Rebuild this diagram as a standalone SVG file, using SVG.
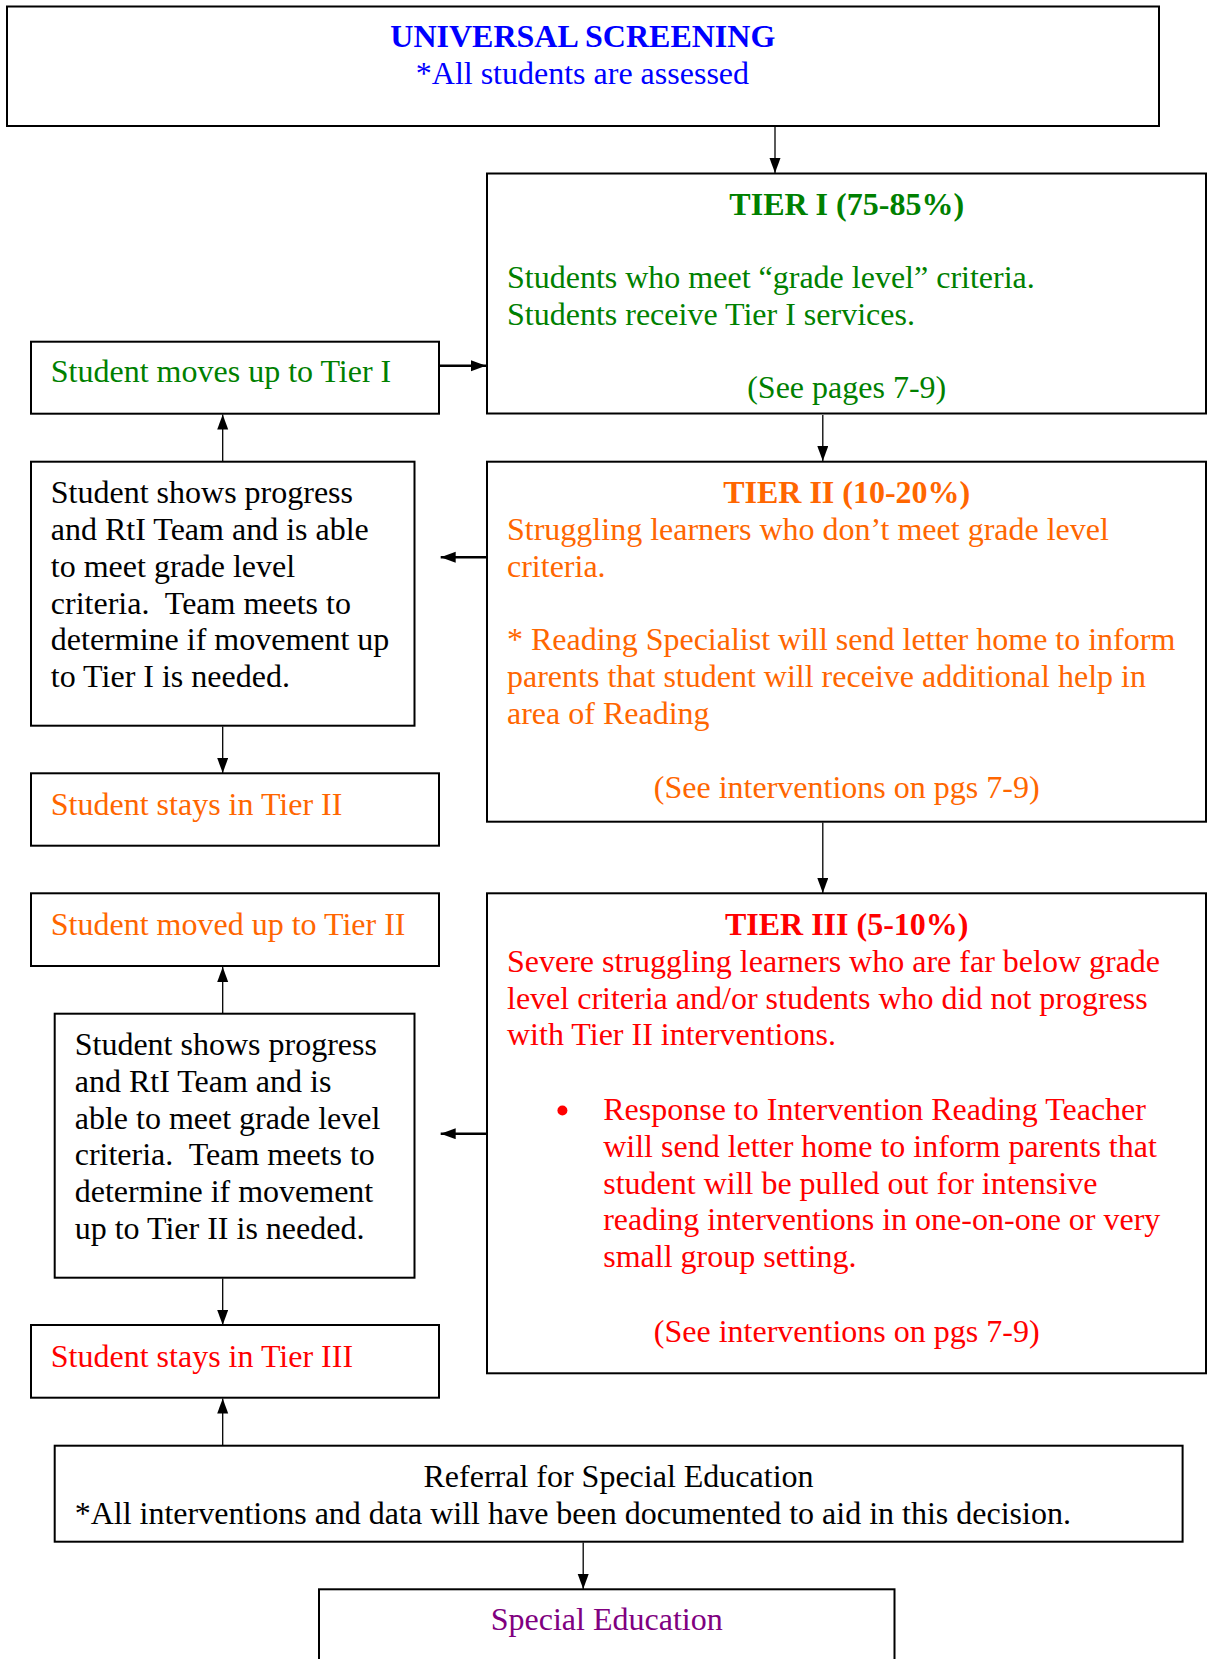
<svg xmlns="http://www.w3.org/2000/svg" width="1208" height="1659" viewBox="0 0 1208 1659">
<style>
  .box { fill: #ffffff; stroke: #000000; stroke-width: 2; }
  .t { font-family: "Liberation Serif", "Times New Roman", serif; font-size: 32px; }
  .b { font-weight: bold; }
  .c { text-anchor: middle; }
  .blue { fill: #0000FF; }
  .green { fill: #008000; }
  .orange { fill: #FF6600; }
  .red { fill: #FF0000; }
  .purple { fill: #800080; }
  .black { fill: #000000; }
  .conn { stroke: #000000; stroke-width: 1.3; fill: none; marker-end: url(#arrow); }
  .conn2 { stroke: #000000; stroke-width: 2.5; fill: none; marker-end: url(#arrow); }
</style>
<defs>
  <marker id="arrow" markerUnits="userSpaceOnUse" markerWidth="16" markerHeight="12" refX="15" refY="5.5" orient="auto">
    <path d="M0,0 L15,5.5 L0,11 z" fill="#000000"/>
  </marker>
</defs>
<rect x="0" y="0" width="1208" height="1659" fill="#ffffff"/>

<g id="connectors">
  <line class="conn" x1="775" y1="127" x2="775" y2="173"/>
  <line class="conn2" x1="439" y1="365.7" x2="486" y2="365.7"/>
  <line class="conn" x1="222.7" y1="461" x2="222.7" y2="414.5"/>
  <line class="conn" x1="822.8" y1="415" x2="822.8" y2="461"/>
  <line class="conn2" x1="487" y1="557.3" x2="440.7" y2="557.3"/>
  <line class="conn" x1="222.7" y1="726.5" x2="222.7" y2="773"/>
  <line class="conn" x1="822.8" y1="822.5" x2="822.8" y2="893"/>
  <line class="conn" x1="222.7" y1="1013" x2="222.7" y2="967"/>
  <line class="conn2" x1="487" y1="1133.7" x2="440.7" y2="1133.7"/>
  <line class="conn" x1="222.7" y1="1278.5" x2="222.7" y2="1325"/>
  <line class="conn" x1="222.7" y1="1445" x2="222.7" y2="1398.5"/>
  <line class="conn" x1="583.2" y1="1542.5" x2="583.2" y2="1589"/>
</g>

<g id="universal">
  <rect class="box" x="7" y="6.5" width="1152" height="119.5"/>
  <text class="t b c blue" x="582.8" y="47">UNIVERSAL SCREENING</text>
  <text class="t c blue" x="582.4" y="83.7">*All students are assessed</text>
</g>

<g id="tier1">
  <rect class="box" x="487" y="173.5" width="719" height="240"/>
  <text class="t b c green" x="846.7" y="215">TIER I (75-85%)</text>
  <text class="t green" x="507" y="288">Students who meet “grade level” criteria.</text>
  <text class="t green" x="507" y="324.7">Students receive Tier I services.</text>
  <text class="t c green" x="846.7" y="398">(See pages 7-9)</text>
</g>

<g id="moves-up-tier1">
  <rect class="box" x="31" y="341.7" width="408" height="72"/>
  <text class="t green" x="50.8" y="382">Student moves up to Tier I</text>
</g>

<g id="progress1">
  <rect class="box" x="31" y="461.7" width="383.5" height="264"/>
  <text class="t black" x="50.8" y="503">Student shows progress</text>
  <text class="t black" x="50.8" y="540">and RtI Team and is able</text>
  <text class="t black" x="50.8" y="577">to meet grade level</text>
  <text class="t black" x="50.8" y="613.7" xml:space="preserve">criteria.  Team meets to</text>
  <text class="t black" x="50.8" y="650.3">determine if movement up</text>
  <text class="t black" x="50.8" y="687">to Tier I is needed.</text>
</g>

<g id="tier2">
  <rect class="box" x="487" y="461.7" width="719" height="360"/>
  <text class="t b c orange" x="846.7" y="503">TIER II (10-20%)</text>
  <text class="t orange" x="507" y="540.3">Struggling learners who don’t meet grade level</text>
  <text class="t orange" x="507" y="577">criteria.</text>
  <text class="t orange" x="507" y="650.3">* Reading Specialist will send letter home to inform</text>
  <text class="t orange" x="507" y="687">parents that student will receive additional help in</text>
  <text class="t orange" x="507" y="723.7">area of Reading</text>
  <text class="t c orange" x="846.7" y="797.5">(See interventions on pgs 7-9)</text>
</g>

<g id="stays-tier2">
  <rect class="box" x="31" y="773.3" width="408" height="72.4"/>
  <text class="t orange" x="50.8" y="815.3">Student stays in Tier II</text>
</g>

<g id="moved-up-tier2">
  <rect class="box" x="31" y="893.3" width="408" height="72.7"/>
  <text class="t orange" x="50.8" y="935.3">Student moved up to Tier II</text>
</g>

<g id="progress2">
  <rect class="box" x="54.7" y="1013.7" width="359.8" height="264"/>
  <text class="t black" x="74.7" y="1055.3">Student shows progress</text>
  <text class="t black" x="74.7" y="1092">and RtI Team and is</text>
  <text class="t black" x="74.7" y="1128.7">able to meet grade level</text>
  <text class="t black" x="74.7" y="1165.3" xml:space="preserve">criteria.  Team meets to</text>
  <text class="t black" x="74.7" y="1202">determine if movement</text>
  <text class="t black" x="74.7" y="1238.7">up to Tier II is needed.</text>
</g>

<g id="tier3">
  <rect class="box" x="487" y="893.3" width="719" height="480"/>
  <text class="t b c red" x="846.7" y="935.3">TIER III (5-10%)</text>
  <text class="t red" x="507" y="972">Severe struggling learners who are far below grade</text>
  <text class="t red" x="507" y="1008.7">level criteria and/or students who did not progress</text>
  <text class="t red" x="507" y="1045.3">with Tier II interventions.</text>
  <circle cx="562.4" cy="1110.5" r="5" fill="#FF0000"/>
  <text class="t red" x="603.2" y="1120.3">Response to Intervention Reading Teacher</text>
  <text class="t red" x="603.2" y="1157">will send letter home to inform parents that</text>
  <text class="t red" x="603.2" y="1193.7">student will be pulled out for intensive</text>
  <text class="t red" x="603.2" y="1230.3">reading interventions in one-on-one or very</text>
  <text class="t red" x="603.2" y="1267">small group setting.</text>
  <text class="t c red" x="846.7" y="1341.5">(See interventions on pgs 7-9)</text>
</g>

<g id="stays-tier3">
  <rect class="box" x="31" y="1325" width="408" height="72.7"/>
  <text class="t red" x="50.8" y="1367">Student stays in Tier III</text>
</g>

<g id="referral">
  <rect class="box" x="54.7" y="1445.7" width="1127.9" height="96"/>
  <text class="t c black" x="618.5" y="1487">Referral for Special Education</text>
  <text class="t black" x="74.7" y="1523.7">*All interventions and data will have been documented to aid in this decision.</text>
</g>

<g id="special-education">
  <rect class="box" x="319" y="1589.3" width="575.5" height="100"/>
  <text class="t c purple" x="606.7" y="1630.3">Special Education</text>
</g>
</svg>
